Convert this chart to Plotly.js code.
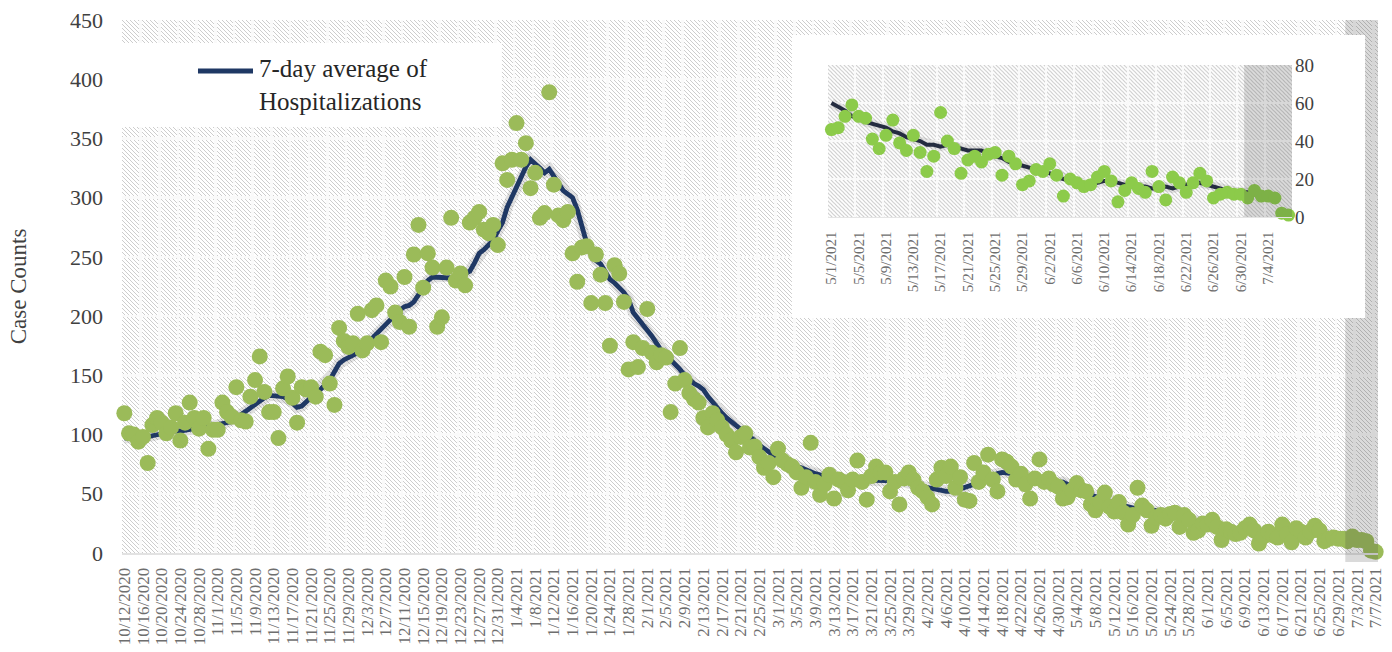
<!DOCTYPE html>
<html><head><meta charset="utf-8">
<script src="https://cdn.plot.ly/plotly-3.0.1.min.js"></script>
<style>html,body{margin:0;padding:0;background:#fff;}#chart{width:1392px;height:652px;}</style>
</head><body><div id="chart"></div>
<script>
// ---------- categories ----------
function makeDates(y, m, d, n) {
  const out = [];
  for (let i = 0; i < n; i++) {
    const t = new Date(Date.UTC(y, m - 1, d + i));
    out.push((t.getUTCMonth() + 1) + '/' + t.getUTCDate() + '/' + t.getUTCFullYear());
  }
  return out;
}
const dates = makeDates(2020, 10, 12, 269);

// ---------- series ----------
const dailyHospitalizations = [
  118,101,100,94,98,76,108,114,110,101,
  106,118,95,110,127,114,105,114,88,104,
  104,127,119,115,140,112,111,132,146,166,
  136,119,119,97,139,149,131,110,140,138,
  140,132,170,167,143,125,190,179,174,177,
  202,171,177,205,209,178,230,225,203,195,
  233,191,252,277,224,253,241,191,199,241,
  283,230,236,226,279,283,288,273,270,277,
  260,329,315,332,363,332,346,308,321,283,
  287,389,311,285,281,288,253,229,258,259,
  211,252,235,211,175,243,236,212,155,178,
  157,173,206,169,161,167,165,119,143,173,
  146,135,130,127,114,106,118,112,106,100,
  95,85,98,101,89,90,81,72,76,64,
  88,78,75,73,68,55,64,93,60,49,
  58,66,46,62,60,53,62,78,60,45,
  65,73,68,68,52,60,41,63,68,62,
  55,52,47,41,62,72,65,73,55,64,
  45,44,76,60,68,83,62,52,79,77,
  73,62,67,58,46,63,79,60,63,58,
  56,
  46,47,53,59,53,52,41,36,43,51,
  39,35,43,34,24,32,55,40,36,23,
  30,32,29,33,34,22,32,28,17,19,
  25,24,28,22,11,20,18,16,17,21,
  24,19,8,14,18,15,13,24,16,9,
  21,18,13,18,23,19,10,12,13,12,
  12,10,14,11,11,10,2,1
];
const sevenDayAverage = [
  97,97,98,97,98,98,99,100,100,101,
  102,103,103,104,104,105,105,106,106,107,
  108,109,110,111,114,117,120,123,126,129,
  131,133,133,132,132,130,127,123,124,128,
  132,135,138,142,146,153,160,163,165,167,
  169,173,177,181,186,190,194,198,202,205,
  208,209,212,218,225,230,233,233,232,232,
  232,232,234,236,238,245,253,256,260,264,
  272,279,292,301,309,318,326,332,329,325,
  321,324,318,312,306,303,300,290,275,262,
  252,247,244,238,231,228,224,220,214,203,
  198,193,189,183,177,171,167,163,160,155,
  150,146,143,141,138,132,127,122,118,114,
  111,107,104,101,98,95,91,88,85,82,
  80,78,76,74,73,72,70,69,67,66,
  65,64,63,63,62,62,62,62,62,61,
  61,62,62,62,61,61,60,60,59,59,
  57,56,55,54,53,53,52,52,52,54,
  55,56,58,60,62,64,66,67,68,68,
  67,66,65,65,64,64,63,62,61,60,
  59,
  60,58,56,53,52,50,49,48,47,45,
  44,42,41,40,38,38,37,38,37,36,
  35,35,35,33,32,31,29,28,27,26,
  25,24,23,21,20,19,18,17,17,18,
  19,19,18,17,16,16,16,15,15,16,
  15,16,17,18,18,17,16,15,14,14,
  13,13,12,12,11,10,null,null
];
const insetStartLabel = '5/1/2021';
const shadedStartLabel = '7/1/2021';
const legendLabel = '7-day average of<br>Hospitalizations';
const yTitle = 'Case Counts';
const yMax = 450, insetYMax = 80;

// ---------- derived ----------
const N = dates.length;
const i0 = dates.indexOf(insetStartLabel);
const insetDates = dates.slice(i0);
const insetDaily = dailyHospitalizations.slice(i0);
const insetAvg = sevenDayAverage.slice(i0);
const shadeIdx = dates.indexOf(shadedStartLabel);
const shadeIdxInset = insetDates.indexOf(shadedStartLabel);

const SERIF = "'Liberation Serif', 'Times New Roman', serif";

function hatch(w, h, col) {
  const svg = `<svg xmlns="http://www.w3.org/2000/svg" width="${w}" height="${h}" viewBox="0 0 ${w} ${h}" preserveAspectRatio="none"><defs><pattern id="p" width="4" height="4" patternUnits="userSpaceOnUse"><path d="M-1,-1 L5,5 M-1,3 L1,5 M3,-1 L5,1" stroke="${col}" stroke-width="1"/></pattern></defs><rect width="100%" height="100%" fill="#ffffff"/><rect width="100%" height="100%" fill="url(#p)"/></svg>`;
  return 'data:image/svg+xml;charset=utf-8,' + encodeURIComponent(svg);
}

// geometry as fractions of the main plot area
const insetBox = {x0: 0.5334, x1: 0.9897, y0: 0.4409, y1: 0.9719};
const legendBox = {x0: 0, x1: 0.3025, y0: 0.7992, y1: 0.9568};
const fx = f => -0.5 + f * N;      // fraction -> category coordinate
const fy = f => f * yMax;          // fraction -> value coordinate
const bandStart = shadeIdx / N;
const shadeFill = 'rgba(60,60,60,0.19)';
const GRID = '#FAFAFA';

const traces = [
  {x: dates, y: sevenDayAverage, xaxis: 'x', yaxis: 'y', mode: 'lines', hoverinfo: 'skip',
   line: {color: 'rgba(0,0,0,0.11)', width: 11}, showlegend: false},
  {x: dates, y: sevenDayAverage, xaxis: 'x', yaxis: 'y', mode: 'lines', name: '7-day average of Hospitalizations',
   line: {color: '#1F3864', width: 4.8}, showlegend: false},
  {x: dates, y: dailyHospitalizations, xaxis: 'x', yaxis: 'y', mode: 'markers', name: 'Hospitalizations',
   marker: {color: '#9BBB59', size: 16}, cliponaxis: false, showlegend: false},
  {x: insetDates, y: insetAvg, xaxis: 'x3', yaxis: 'y3', mode: 'lines', hoverinfo: 'skip',
   line: {color: 'rgba(0,0,0,0.09)', width: 9}, showlegend: false},
  {x: insetDates, y: insetAvg, xaxis: 'x3', yaxis: 'y3', mode: 'lines',
   line: {color: '#242C40', width: 4}, showlegend: false},
  {x: insetDates, y: insetDaily, xaxis: 'x3', yaxis: 'y3', mode: 'markers',
   marker: {color: '#8CCB4A', size: 13}, cliponaxis: false, showlegend: false}
];

const layout = {
  width: 1392, height: 652,
  margin: {l: 122, r: 14, t: 20, b: 99},
  paper_bgcolor: '#ffffff', plot_bgcolor: '#ffffff',
  font: {family: SERIF, color: '#404040'},
  showlegend: false,
  xaxis: {
    type: 'category', domain: [0, 1], range: [-0.5, N - 0.5], anchor: 'y',
    tickmode: 'linear', tick0: 0, dtick: 4, tickson: 'boundaries',
    tickangle: -90, ticks: '', ticklabelstandoff: 6,
    tickfont: {family: SERIF, size: 17, color: '#6e6e6e'},
    showgrid: true, gridcolor: GRID, gridwidth: 2.5,
    showline: true, linecolor: '#E2E2E2', linewidth: 2, zeroline: false, fixedrange: true
  },
  yaxis: {
    range: [0, yMax], dtick: 50, tick0: 0, anchor: 'x', domain: [0, 1],
    ticks: '', ticklabelstandoff: 18,
    tickfont: {family: SERIF, size: 22, color: '#404040'},
    showgrid: true, gridcolor: GRID, gridwidth: 2.5, zeroline: false,
    title: {text: yTitle, font: {family: SERIF, size: 23, color: '#404040'}, standoff: 36},
    fixedrange: true
  },
  xaxis3: {
    type: 'category', anchor: 'y3', domain: [0.5621, 0.9315], range: [-0.5, insetDates.length - 0.5],
    tickmode: 'linear', tick0: 0, dtick: 4, tickson: 'boundaries',
    tickangle: -90, ticks: '', ticklabelstandoff: 7,
    tickfont: {family: SERIF, size: 15, color: '#6e6e6e'},
    showgrid: true, gridcolor: GRID, gridwidth: 2,
    showline: true, linecolor: '#E4E4E4', linewidth: 1.5, zeroline: false, fixedrange: true
  },
  yaxis3: {
    anchor: 'x3', domain: [0.6304, 0.9156], side: 'right', range: [0, insetYMax], dtick: 20, tick0: 0,
    ticks: '', ticklabelstandoff: 2,
    tickfont: {family: SERIF, size: 19, color: '#404040'},
    showgrid: true, gridcolor: GRID, gridwidth: 2, zeroline: false, fixedrange: true
  },
  images: [
    {source: hatch(1256, 533, '#CDCDCD'), xref: 'x domain', yref: 'y domain', x: 0, y: 1,
     sizex: 1, sizey: 1, xanchor: 'left', yanchor: 'top', sizing: 'stretch', layer: 'below'},
    {source: hatch(464, 152, '#CDCDCD'), xref: 'x3 domain', yref: 'y3 domain', x: 0, y: 1,
     sizex: 1, sizey: 1, xanchor: 'left', yanchor: 'top', sizing: 'stretch', layer: 'below'}
  ],
  shapes: [
    {type: 'rect', xref: 'x', yref: 'y', x0: fx(legendBox.x0), x1: fx(legendBox.x1), y0: fy(legendBox.y0), y1: fy(legendBox.y1),
     fillcolor: '#ffffff', line: {width: 0}, layer: 'between'},
    {type: 'rect', xref: 'x', yref: 'y', x0: fx(insetBox.x0), x1: fx(insetBox.x1), y0: fy(insetBox.y0), y1: fy(insetBox.y1),
     fillcolor: '#ffffff', line: {width: 0}, layer: 'between'},
    {type: 'rect', xref: 'x domain', yref: 'y domain', x0: bandStart, x1: 1, y0: -0.017, y1: insetBox.y0,
     fillcolor: shadeFill, line: {width: 0}, layer: 'above'},
    {type: 'rect', xref: 'x domain', yref: 'y domain', x0: insetBox.x1, x1: 1, y0: insetBox.y0, y1: 1,
     fillcolor: shadeFill, line: {width: 0}, layer: 'above'},
    {type: 'rect', xref: 'x domain', yref: 'y domain', x0: bandStart, x1: insetBox.x1, y0: insetBox.y1, y1: 1,
     fillcolor: shadeFill, line: {width: 0}, layer: 'above'},
    {type: 'rect', xref: 'x3', yref: 'y3 domain', x0: shadeIdxInset - 0.5, x1: insetDates.length - 0.5, y0: 0, y1: 1,
     fillcolor: 'rgba(60,60,60,0.18)', line: {width: 0}, layer: 'above'},
    {type: 'line', xref: 'x domain', yref: 'y domain', x0: 0.0605, x1: 0.1043, y0: 0.9043, y1: 0.9043,
     line: {color: '#1F3864', width: 5}, layer: 'above'}
  ],
  annotations: [
    {xref: 'x domain', yref: 'y domain', x: 0.1075, y: 0.878, xanchor: 'left', yanchor: 'middle',
     text: legendLabel, showarrow: false, align: 'left',
     font: {family: SERIF, size: 25, color: '#262626'}}
  ]
};

Plotly.newPlot('chart', traces, layout, {displayModeBar: false, staticPlot: true});
</script>
</body></html>
